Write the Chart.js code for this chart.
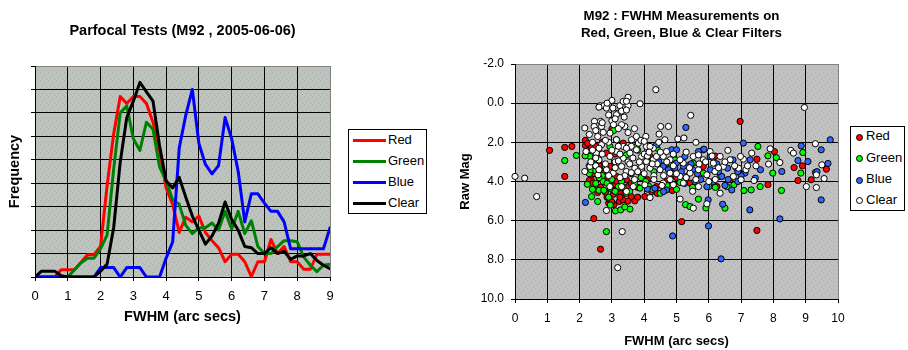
<!DOCTYPE html>
<html><head><meta charset="utf-8">
<script src="https://cdn.jsdelivr.net/npm/chart.js@4.4.0/dist/chart.umd.min.js"></script>
<style>
html,body{margin:0;padding:0;background:#fff;width:908px;height:350px;overflow:hidden;font-family:"Liberation Sans",Arial,sans-serif;}
#c1{position:absolute;left:0;top:0;}
#c2{position:absolute;left:455px;top:0;}
.legend{position:absolute;border:1px solid #000;background:#fff;box-sizing:border-box;font-size:13px;color:#000;}
.row{position:absolute;left:0;height:16px;line-height:16px;width:100%;}
.ln{position:absolute;left:4px;top:6.5px;width:33px;height:3px;}
.mk{position:absolute;left:4.5px;top:4.5px;width:5px;height:5px;border:1px solid #000;border-radius:50%;}
.t1{position:absolute;left:39px;top:0;}
.t2{position:absolute;left:15px;top:-1px;}
</style>
</head><body>
<canvas id="c1" width="450" height="350"></canvas>
<canvas id="c2" width="453" height="350"></canvas>

<div class="legend" style="left:348px;top:129px;width:79px;height:85px;">
  <div class="row" style="top:2.3px"><div class="ln" style="background:#ff0000"></div><span class="t1">Red</span></div>
  <div class="row" style="top:23.3px"><div class="ln" style="background:#008000"></div><span class="t1">Green</span></div>
  <div class="row" style="top:44.3px"><div class="ln" style="background:#0000ff"></div><span class="t1">Blue</span></div>
  <div class="row" style="top:65.3px"><div class="ln" style="background:#000000"></div><span class="t1">Clear</span></div>
</div>
<div class="legend" style="left:850px;top:126px;width:55px;height:85px;">
  <div class="row" style="top:2.3px"><div class="mk" style="background:#ff0000"></div><span class="t2">Red</span></div>
  <div class="row" style="top:23.7px"><div class="mk" style="background:#00ff00"></div><span class="t2">Green</span></div>
  <div class="row" style="top:45px"><div class="mk" style="background:#3366ff"></div><span class="t2">Blue</span></div>
  <div class="row" style="top:65.7px"><div class="mk" style="background:#ffffff"></div><span class="t2">Clear</span></div>
</div>

<script>
// ---------- Left chart: frequency histograms (FWHM, step 0.2) ----------
const fwhmBins = [0,0.2,0.4,0.6,0.8,1.0,1.2,1.4,1.6,1.8,2.0,2.2,2.4,2.6,2.8,3.0,3.2,3.4,3.6,3.8,4.0,4.2,4.4,4.6,4.8,5.0,5.2,5.4,5.6,5.8,6.0,6.2,6.4,6.6,6.8,7.0,7.2,7.4,7.6,7.8,8.0,8.2,8.4,8.6,8.8,9.0];
const freqRed   = [0,0,0,0,0.31,0.31,0.31,0.62,0.95,0.95,1.3,3.9,6.1,7.7,7.4,7.7,7.7,7.4,6.6,5.4,3.8,3.1,1.9,2.55,2.35,2.6,1.9,1.55,1.25,0.65,0.97,0.97,0.65,0.02,0.65,0.65,1.6,1.0,1.3,0.65,0.65,0.33,0.33,0.97,0.97,0.97];
const freqGreen = [0,0,0,0,0,0,0.3,0.6,0.8,0.8,1.2,1.8,4.6,7.0,7.3,5.9,5.4,6.6,6.3,4.7,4.1,3.3,3.1,2.2,1.85,2.1,2.1,2.3,2.0,2.8,2.05,2.8,1.85,2.4,1.3,1.0,1.0,1.3,1.55,1.55,1.5,0.85,0.5,0.23,0.5,0.55];
const freqBlue  = [0,0,0,0,0,0,0,0,0,0,0.4,0.4,0.4,0,0.4,0.4,0.4,0,0,0,0.8,1.5,5.5,6.9,8.0,5.7,4.8,4.4,4.75,6.8,5.9,4.5,2.35,3.55,3.55,3.15,2.8,2.8,2.35,1.2,1.2,1.2,1.2,1.2,1.2,2.1];
const freqClear = [0,0.25,0.25,0.25,0.05,0,0,0,0,0,0.25,0.55,2.1,4.9,6.8,7.5,8.3,7.9,7.5,5.6,4.1,3.8,4.25,3.4,2.6,2.0,1.4,1.75,2.3,3.2,2.45,2.0,1.3,1.25,1.0,1.0,1.25,1.0,1.1,0.75,0.9,0.9,1.0,0.7,0.5,0.35];

// ---------- Right chart: FWHM vs Raw Mag ----------
const redX = [1.07,1.54,1.76,1.54,2.18,2.18,2.36,3.0,6.97,2.44,2.65,2.56,2.85,2.9,3.06,3.23,3.34,3.71,3.6,4.02,4.23,4.87,5.16,7.49,7.83,7.49,8.03,8.64,8.76,8.9,9.17,9.64,2.36,2.52,2.73,3.11,3.27,3.5,2.73,2.94,3.14,3.45,3.92,4.38,4.69,5.42,5.83,6.14,6.25,6.66,4.18,2.83,3.35,2.57,6.2,2.3,2.45,2.6,3.0,3.4,3.8,4.1,5.0,2.25,2.95,3.2,
  2.4,2.65,2.8,3.05,3.25,3.5,2.45,2.9,3.15,3.6,2.3,2.5,2.7,3.1,3.8,4.4,2.6,3.0];
const redY = [2.41,2.26,2.21,3.74,1.90,2.16,2.21,1.32,0.93,5.89,7.46,4.56,4.80,5.1,5.18,5.02,4.94,4.99,4.77,4.77,4.51,4.46,6.05,6.5,4.16,2.86,2.47,3.29,3.95,3.2,3.91,3.37,3.91,4.26,4.0,4.17,4.56,4.26,3.57,3.23,3.74,3.91,3.66,4.26,4.0,4.08,3.23,2.8,4.26,3.91,2.72,2.55,2.04,2.38,2.7,3.95,3.3,3.0,4.4,4.6,4.3,3.9,3.8,2.05,4.95,4.35,
  4.1,4.3,4.55,4.65,4.8,5.0,3.6,3.85,4.0,4.1,2.5,2.2,2.0,2.6,4.8,4.6,3.2,5.05];
const greenX = [1.54,1.9,2.24,2.37,2.56,2.83,3.11,3.27,3.56,2.47,2.32,2.17,2.73,2.85,2.96,3.2,3.45,3.87,4.13,4.5,5.11,5.28,5.42,5.68,5.91,6.0,6.5,6.56,6.78,7.09,7.31,7.59,7.52,7.83,8.09,7.98,8.25,8.85,8.91,5.52,4.18,3.76,4.59,4.8,5.83,6.35,3.45,3.14,2.94,2.4,2.6,2.7,3.0,3.3,3.6,3.9,4.3,4.6,2.5,2.3,3.8,4.4,3.05,4.95,
  2.3,2.5,2.6,2.75,2.9,3.1,3.35,3.55,3.7,4.05,4.25,2.35,2.5,2.8,2.95,3.4,4.7,5.0,5.5,6.2];
const greenY = [2.93,2.67,4.14,4.77,5.02,6.56,5.5,5.45,5.41,3.15,2.72,2.69,4.0,4.09,4.34,4.26,4.6,4.34,4.22,4.6,4.05,5.18,5.28,4.9,5.35,4.26,5.36,4.26,4.17,4.46,4.43,4.26,2.21,2.69,2.78,3.57,4.46,3.57,2.52,3.06,2.38,2.21,3.2,3.32,3.57,3.74,2.64,1.87,2.21,4.4,4.45,3.7,3.9,4.0,3.6,3.8,3.5,4.3,2.8,3.2,2.4,2.3,1.4,2.9,
  3.6,4.1,3.8,4.45,4.8,4.5,4.3,4.5,4.1,4.0,4.4,3.4,3.45,3.3,5.2,5.3,4.2,4.4,4.3,4.3];
const blueX = [2.18,4.85,5.0,5.29,5.26,5.32,4.88,5.99,6.38,8.2,7.27,6.43,8.86,9.48,9.76,9.07,9.69,9.3,9.48,8.76,8.26,7.44,7.28,7.12,6.71,6.86,6.58,6.4,6.14,5.83,6.04,5.68,5.57,5.32,5.0,4.69,4.33,4.1,4.6,4.38,4.59,5.21,5.94,6.9,5.98,7.07,5.85,5.5,6.25,6.6,7.0,7.6,9.35,4.9,5.75,4.45,6.75,
  4.95,5.15,5.45,5.65,6.05,6.3,6.5,4.75,5.25,6.9];
const blueY = [5.07,2.38,2.38,1.24,2.72,3.2,6.78,6.27,7.95,5.91,5.45,5.16,2.18,2.38,1.87,2.98,3.08,3.54,4.94,2.93,3.49,3.83,2.89,3.57,4.43,3.32,3.32,3.74,4.0,2.38,2.72,2.47,4.0,3.74,3.06,4.43,4.34,4.39,4.51,2.13,3.23,3.23,4.26,4.0,4.94,2.04,2.35,3.4,3.1,3.9,3.7,3.4,3.5,3.6,3.9,3.0,2.9,
  3.3,3.5,3.1,3.6,3.4,3.5,4.2,3.4,4.1,3.5];
const clearX = [0,0.3,0.67,4.36,3.87,8.96,5.44,4.75,4.51,5.6,5.04,5.23,4.64,4.46,4.05,6.59,7.9,8.54,8.62,9.3,9.5,9.33,9.57,9.02,9.33,8.2,7.85,7.46,7.33,7.07,6.98,7.15,7.0,5.52,5.94,5.11,4.18,2.83,3.32,3.18,2.16,2.46,2.65,2.68,2.45,2.73,2.56,2.63,2.75,2.83,3.0,3.03,3.19,3.25,3.35,3.5,3.5,3.38,3.14,3.4,2.16,2.32,2.57,2.2,2.52,2.68,2.94,3.14,3.35,3.56,3.76,3.92,4.07,4.28,4.59,4.80,5.21,5.52,5.83,6.14,6.35,6.66,2.83,3.04,3.30,3.45,3.71,3.92,4.18,4.49,4.80,5.11,5.42,5.68,5.94,6.19,6.45,2.94,3.14,3.35,3.61,3.82,4.07,4.28,3.76,3.66,4.02,4.59,4.90,5.21,5.68,6.0,6.35,6.76,6.92,4.18,4.38,3.30,2.94,3.45,4.69,5.11,5.68,6.04,2.4,2.9,3.2,3.6,2.6,3.1,3.5,4.0,4.4,4.9,5.4,5.9,6.3,6.8,2.5,3.7,4.3,5.0,5.6,6.2,3.0,3.3,2.6,4.55,5.5,7.4,7.2,
  2.3,2.5,2.7,2.9,3.1,3.3,3.45,3.2,3.5,3.7,3.9,2.4,2.7,2.8,3.0,3.25,3.45,3.65,3.85,4.1,4.25,4.5,4.7,2.5,2.8,3.1,3.4,3.6,3.8,4.0,4.3,4.6,2.35,2.6,3.2,3.55,4.15,4.45,4.9,5.3,5.7,6.1,6.5,2.9,3.25,4.8,5.3,4.0,3.05,2.6,2.85,3.45];
const clearY = [3.74,3.83,4.77,-0.69,0.03,0.22,0.62,1.19,1.19,2.0,1.83,1.78,1.87,1.58,1.7,2.41,2.33,2.41,2.55,2.07,3.15,3.66,3.85,4.26,4.31,3.03,3.11,3.2,2.55,2.86,2.72,3.4,3.91,5.36,5.14,4.9,4.82,5.48,6.56,8.4,1.27,0.93,0.93,1.19,1.19,1.49,1.7,0.13,0.13,0.25,-0.14,0.25,0.51,0.13,-0.09,-0.3,0.13,0.71,0.59,1.19,3.49,3.23,3.66,2.47,2.55,2.12,2.72,2.47,2.81,2.55,2.38,2.72,2.98,2.89,2.72,2.89,3.06,2.72,2.89,3.06,2.72,2.89,3.40,3.57,3.23,3.49,3.32,3.23,3.32,3.40,3.57,3.74,3.57,3.40,3.66,3.49,3.23,1.53,1.87,2.21,1.87,2.04,2.21,2.30,1.70,4.26,4.17,4.08,4.17,4.08,4.26,4.0,4.60,3.74,3.32,2.21,2.72,4.26,4.26,4.51,2.47,2.89,2.64,2.47,2.0,2.0,2.2,2.2,2.9,3.0,3.0,2.6,3.1,3.2,3.3,3.0,3.3,3.2,3.2,3.9,3.7,3.6,3.9,3.9,0.9,1.1,2.3,4.2,4.5,3.95,3.2,
  1.6,1.4,1.0,0.6,0.8,0.4,0.35,1.3,1.5,1.3,1.9,2.4,2.6,1.9,2.4,2.6,2.3,2.8,3.0,2.7,3.1,2.5,3.0,2.8,3.1,3.3,3.7,3.55,3.5,3.6,3.9,3.7,3.0,3.4,2.95,3.1,2.5,2.0,2.6,2.5,3.1,2.7,3.0,3.7,3.8,3.9,3.8,1.95,1.1,0.2,0.0,-0.1];

Chart.defaults.font.family = "'Liberation Sans', Arial, sans-serif";
Chart.defaults.color = '#000';

function makePattern(ctx){
  const c = document.createElement('canvas'); c.width = 8; c.height = 8;
  const g = c.getContext('2d');
  g.fillStyle = '#c0c0c0'; g.fillRect(0,0,8,8);
  g.fillStyle = '#98b898';
  g.fillRect(0,0,1,1); g.fillRect(4,2,1,1); g.fillRect(2,5,1,1); g.fillRect(6,6,1,1);
  return ctx.createPattern(c,'repeat');
}
const bgPlugin = {
  id:'bgPattern',
  beforeDraw(chart){
    const {ctx, chartArea:a} = chart;
    ctx.save();
    ctx.fillStyle = makePattern(ctx);
    ctx.fillRect(a.left, a.top, a.right-a.left, a.bottom-a.top);
    ctx.restore();
  }
};
function gridColor(edgeValue){
  return c => (c.tick && c.tick.value === edgeValue) ? '#808080' : '#000000';
}
const zip = (xs, ys) => xs.map((x,i) => ({x:x, y:ys[i]}));

// Left chart
new Chart(document.getElementById('c1'), {
  type:'line',
  data:{datasets:[
    {label:'Red',   data:zip(fwhmBins,freqRed),   borderColor:'#ff0000', order:4},
    {label:'Green', data:zip(fwhmBins,freqGreen), borderColor:'#008000', order:3},
    {label:'Blue',  data:zip(fwhmBins,freqBlue),  borderColor:'#0000ff', order:2},
    {label:'Clear', data:zip(fwhmBins,freqClear), borderColor:'#000000', order:1}
  ].map(d => Object.assign(d,{borderWidth:3, pointRadius:0, tension:0, fill:false, borderJoinStyle:'round', borderCapStyle:'round'}))},
  options:{
    responsive:false, animation:false,
    layout:{padding:{left:0,right:120,top:0,bottom:0}},
    plugins:{
      legend:{display:false}, tooltip:{enabled:false},
      title:{display:true, text:'Parfocal Tests (M92 , 2005-06-06)', fullSize:false, color:'#000',
        font:{size:14.5, weight:'bold', lineHeight:1.2}, padding:{top:22.3, bottom:26.3}}
    },
    scales:{
      x:{type:'linear', min:0, max:9,
        ticks:{stepSize:1, font:{size:13}, padding:8, color:'#000', maxRotation:0, autoSkip:false},
        grid:{color:gridColor(9), tickColor:'#000', tickLength:4, drawTicks:true},
        border:{display:true, color:'#000'},
        title:{display:true, text:'FWHM (arc secs)', color:'#000', font:{size:14.5, weight:'bold', lineHeight:1.2}, padding:{top:0, bottom:24}},
        afterFit(s){ s.height = 73; }
      },
      y:{min:0, max:9,
        ticks:{stepSize:1, display:false},
        grid:{color:gridColor(9), tickColor:'#000', tickLength:4, drawTicks:true},
        border:{display:true, color:'#000'},
        title:{display:true, text:'Frequency', color:'#000', font:{size:14.5, weight:'bold', lineHeight:1.2}, padding:{top:6.3, bottom:0}},
        afterFit(s){ s.width = 35; }
      }
    }
  },
  plugins:[bgPlugin]
});

// Right chart
const pt = {pointRadius:3.1, pointHoverRadius:3.1, pointBorderWidth:1, borderColor:'#000', pointStyle:'circle', clip:false};
new Chart(document.getElementById('c2'), {
  type:'scatter',
  data:{datasets:[
    Object.assign({label:'Red',   data:zip(redX,redY),     backgroundColor:'#ff0000', order:4}, pt),
    Object.assign({label:'Green', data:zip(greenX,greenY), backgroundColor:'#00ff00', order:3}, pt),
    Object.assign({label:'Blue',  data:zip(blueX,blueY),   backgroundColor:'#3366ff', order:2}, pt),
    Object.assign({label:'Clear', data:zip(clearX,clearY), backgroundColor:'#ffffff', order:1}, pt)
  ]},
  options:{
    responsive:false, animation:false,
    layout:{padding:0},
    plugins:{
      legend:{display:false}, tooltip:{enabled:false},
      title:{display:true, text:['M92 : FWHM Measurements on','Red, Green, Blue & Clear Filters'], fullSize:true, color:'#000',
        font:{size:13.3, weight:'bold', lineHeight:1.25}, padding:{top:8.4, bottom:22.35}}
    },
    scales:{
      x:{type:'linear', min:0, max:10,
        ticks:{stepSize:1, font:{size:12}, padding:8, color:'#000', maxRotation:0, autoSkip:false},
        grid:{color:gridColor(10), tickColor:'#000', tickLength:4, drawTicks:true},
        border:{display:true, color:'#000'},
        title:{display:true, text:'FWHM (arc secs)', color:'#000', font:{size:13, weight:'bold', lineHeight:1.2}, padding:{top:0, bottom:0.5}},
        afterFit(s){ s.height = 51; }
      },
      y:{min:-2, max:10, reverse:true,
        ticks:{stepSize:2, font:{size:12}, padding:7, color:'#000', callback:v => Number(v).toFixed(1)},
        grid:{color:gridColor(-2), tickColor:'#000', tickLength:4, drawTicks:true},
        border:{display:true, color:'#000'},
        title:{display:true, text:'Raw Mag', color:'#000', font:{size:13, weight:'bold', lineHeight:1.2}, padding:{top:2.2, bottom:0}},
        afterFit(s){ s.width = 60; }
      },
      spacer:{position:'right', display:true, min:0, max:1,
        grid:{display:false, drawTicks:false}, ticks:{display:false}, border:{display:false},
        afterFit(s){ s.width = 70; }
      }
    }
  },
  plugins:[bgPlugin]
});
</script>
</body></html>
